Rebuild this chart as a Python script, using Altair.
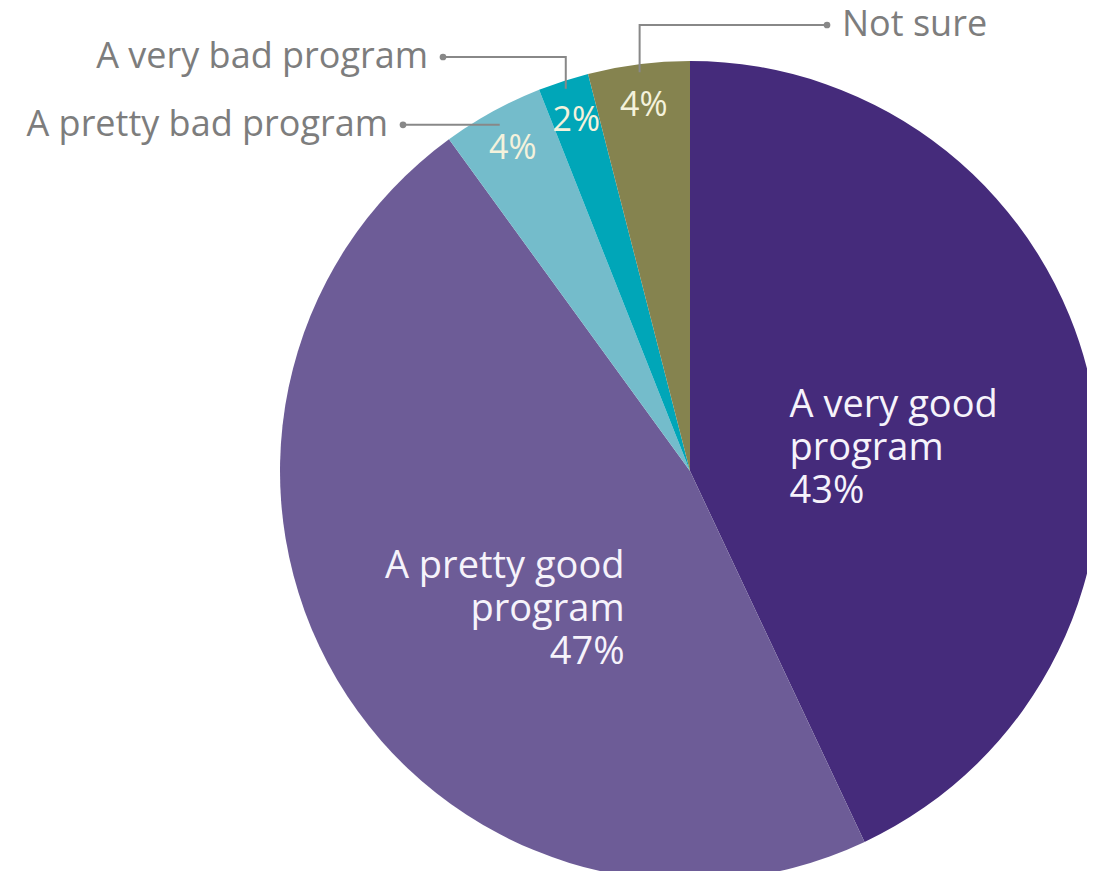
import altair as alt
import numpy as np
import pandas as pd

# ---- data ----
categories = ["A very good program", "A pretty good program", "A pretty bad program",
              "A very bad program", "Not sure"]
values = [43, 47, 4, 2, 4]
pct_labels = ["43%", "47%", "4%", "2%", "4%"]
wrapped_names = ["A very good\nprogram", "A pretty good\nprogram", "", "", ""]
colors = ["#452b7b", "#6d5c97", "#74bccb", "#00a6b8", "#85834f"]

df = pd.DataFrame({
    "cat": categories,
    "value": values,
    "ord": list(range(len(categories))),
    "pct": pct_labels,
    "name": wrapped_names,
})

# ---- layout (chart pixel space) ----
W, H = 1079, 863
CX, CY, R = 682, 463, 410
FONT = "Open Sans"
GRAY = "#7d7d7d"
LINE_GRAY = "#888888"

# callout layout for small slices: side, dot x, label row y (None = anchor height), anchor radius
callout_layout = {
    "A pretty bad program": ("left", 395, None, 395),
    "A very bad program": ("left", 435, 49, 402),
    "Not sure": ("right", 819, 17, 402),
}

# mid angles from the data
vals = np.array(values, dtype=float)
cum = np.cumsum(vals)
mid_ang = (cum - vals / 2) / vals.sum() * 2 * np.pi

line_rows, label_rows = [], []
for i, cat in enumerate(categories):
    if cat not in callout_layout:
        continue
    side, dot_x, row_y, rad = callout_layout[cat]
    ax = CX + rad * np.sin(mid_ang[i])
    ay = CY - rad * np.cos(mid_ang[i])
    ly = ay if row_y is None else row_y
    pts = [(ax, ay), (ax, ly), (dot_x, ly)]
    for k, (px, py) in enumerate(pts):
        line_rows.append({"cat": cat, "k": k, "px": px, "py": py})
    label_rows.append({"cat": cat, "side": side, "px": dot_x, "py": ly})

lines_df = pd.DataFrame(line_rows)
labels_df = pd.DataFrame(label_rows)

base = alt.Chart(df).encode(
    theta=alt.Theta("value:Q", stack=True),
    order=alt.Order("ord:Q"),
)

pie = base.mark_arc(outerRadius=R).encode(
    x=alt.value(CX), y=alt.value(CY),
    color=alt.Color("cat:N", scale=alt.Scale(domain=categories, range=colors), legend=None),
)

small_pct = base.transform_calculate(
    lbl="datum.value < 10 ? datum.pct : ''"
).mark_text(radius=368, font=FONT, fontSize=34, color="#f4f2dc",
            align="center", baseline="middle").encode(
    x=alt.value(CX), y=alt.value(CY), text="lbl:N")

good_right = base.transform_calculate(
    lbl="datum.ord == 0 ? datum.name + '\\n' + datum.pct : ''"
).mark_text(radius=102, dy=-43, font=FONT, fontSize=38, lineHeight=43, lineBreak="\n",
            color="#f6f3fb", align="left", baseline="middle").encode(
    x=alt.value(CX), y=alt.value(CY), text="lbl:N")

good_left = base.transform_calculate(
    lbl="datum.ord == 1 ? datum.name + '\\n' + datum.pct : ''"
).mark_text(radius=76, dy=57, font=FONT, fontSize=38, lineHeight=43, lineBreak="\n",
            color="#f6f3fb", align="right", baseline="middle").encode(
    x=alt.value(CX), y=alt.value(CY), text="lbl:N")

leaders = alt.Chart(lines_df).mark_line(color=LINE_GRAY, strokeWidth=2).encode(
    x=alt.X("px:Q", scale=None, axis=None),
    y=alt.Y("py:Q", scale=None, axis=None),
    detail="cat:N",
    order="k:Q",
)

dots = alt.Chart(labels_df).mark_circle(color=LINE_GRAY, opacity=1, size=45).encode(
    x=alt.X("px:Q", scale=None, axis=None),
    y=alt.Y("py:Q", scale=None, axis=None),
)

left_labels = alt.Chart(labels_df).transform_filter(alt.datum.side == "left").mark_text(
    align="right", baseline="middle", dx=-15, font=FONT, fontSize=36, color=GRAY).encode(
    x=alt.X("px:Q", scale=None, axis=None),
    y=alt.Y("py:Q", scale=None, axis=None),
    text="cat:N",
)

right_labels = alt.Chart(labels_df).transform_filter(alt.datum.side == "right").mark_text(
    align="left", baseline="middle", dx=15, font=FONT, fontSize=36, color=GRAY).encode(
    x=alt.X("px:Q", scale=None, axis=None),
    y=alt.Y("py:Q", scale=None, axis=None),
    text="cat:N",
)

chart = alt.layer(
    pie, leaders, dots, small_pct, good_right, good_left, left_labels, right_labels
).properties(
    width=W, height=H,
    autosize=alt.AutoSizeParams(type="none"),
    padding=0,
).configure_view(strokeWidth=0)

chart.save("out.html", embed_options={"renderer": "svg", "actions": False})
